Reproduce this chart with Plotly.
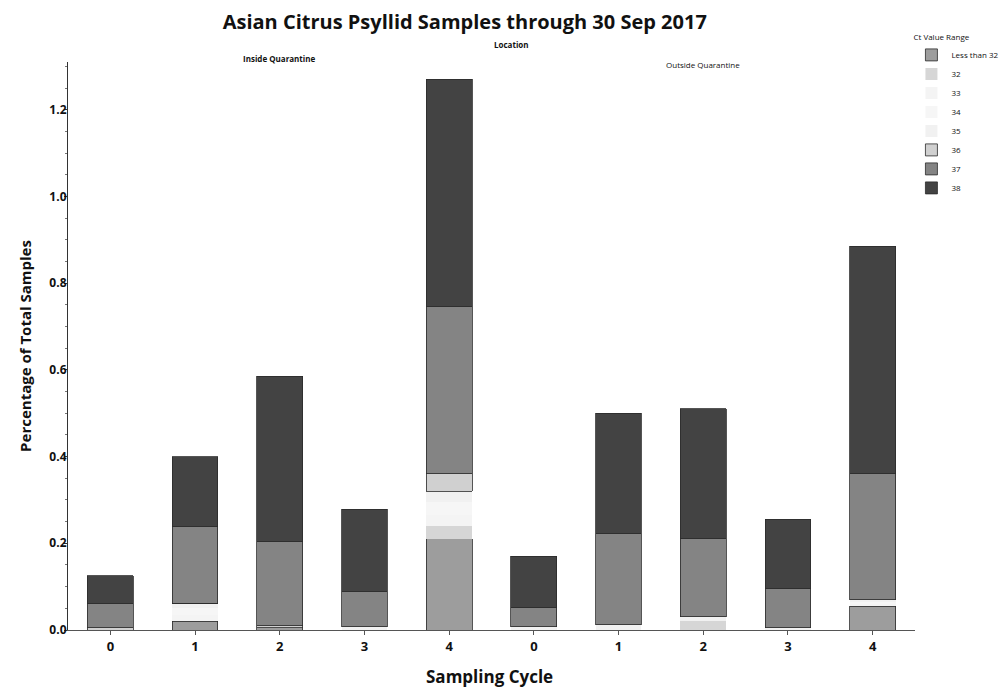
import plotly.graph_objects as go
from plotly.subplots import make_subplots

# Ciclos de muestreo y rangos de Ct
ciclos = ['0', '1', '2', '3', '4']
rangos_ct = ['Less than 32', '32', '33', '34', '35', '36', '37', '38']

# Porcentaje de muestras - dentro de cuarentena
dentro_menos32 = [0.0, 0.02, 0.005, 0.0, 0.21]
dentro_32 = [0.0, 0.0, 0.0, 0.0, 0.03]
dentro_33 = [0.0, 0.015, 0.0, 0.0, 0.025]
dentro_34 = [0.0, 0.015, 0.0, 0.0, 0.03]
dentro_35 = [0.0, 0.012, 0.0, 0.008, 0.025]
dentro_36 = [0.005, 0.0, 0.005, 0.0, 0.04]
dentro_37 = [0.055, 0.176, 0.195, 0.08, 0.385]
dentro_38 = [0.065, 0.162, 0.38, 0.19, 0.525]

# Porcentaje de muestras - fuera de cuarentena
fuera_menos32 = [0.0, 0.0, 0.0, 0.0, 0.055]
fuera_32 = [0.0, 0.0, 0.02, 0.0, 0.0]
fuera_33 = [0.0, 0.0, 0.0, 0.0, 0.005]
fuera_34 = [0.0, 0.0, 0.0, 0.0, 0.005]
fuera_35 = [0.008, 0.012, 0.01, 0.005, 0.005]
fuera_36 = [0.0, 0.0, 0.0, 0.0, 0.0]
fuera_37 = [0.045, 0.21, 0.18, 0.09, 0.29]
fuera_38 = [0.117, 0.278, 0.30, 0.16, 0.525]

colores = ['#9d9d9d', '#d6d6d6', '#f4f4f4', '#f6f6f6', '#f1f1f1', '#d0d0d0', '#848484', '#434343']

dentro = [dentro_menos32, dentro_32, dentro_33, dentro_34, dentro_35, dentro_36, dentro_37, dentro_38]
fuera = [fuera_menos32, fuera_32, fuera_33, fuera_34, fuera_35, fuera_36, fuera_37, fuera_38]

fig = make_subplots(rows=1, cols=2, shared_yaxes=True, horizontal_spacing=0)

for i, rango in enumerate(rangos_ct):
    borde = '#2b2b2b' if rango in ('Less than 32', '36', '37', '38') else 'rgba(0,0,0,0)'
    for col, valores in ((1, dentro[i]), (2, fuera[i])):
        fig.add_trace(
            go.Bar(
                x=ciclos,
                y=valores,
                name=rango,
                legendgroup=rango,
                showlegend=(col == 1),
                marker=dict(color=colores[i], line=dict(color=borde, width=0.8)),
            ),
            row=1, col=col
        )

fuente = 'Open Sans'

fig.update_layout(
    width=1006,
    height=688,
    barmode='stack',
    bargap=0.46,
    plot_bgcolor='white',
    paper_bgcolor='white',
    margin=dict(l=68, r=91, t=62, b=58, autoexpand=False),
    font=dict(family=fuente, color='#111'),
    title=dict(
        text='<b>Asian Citrus Psyllid Samples through 30 Sep 2017</b>',
        x=0.462, xanchor='center', y=1 - 22 / 688, yanchor='middle',
        font=dict(size=20, family=fuente, color='#111')
    ),
    legend=dict(
        title=dict(text='Ct Value Range', font=dict(size=8, color='#111')),
        font=dict(size=8, color='#111'),
        traceorder='normal',
        xref='container', yref='container',
        x=0.906, y=1 - 30 / 688, xanchor='left', yanchor='top',
        bgcolor='rgba(0,0,0,0)',
        itemwidth=30,
    ),
)

for col in (1, 2):
    fig.update_xaxes(
        type='category',
        showgrid=False,
        automargin=False,
        showline=True, linecolor='#555', linewidth=1,
        ticks='outside', ticklen=4, tickcolor='#555',
        tickfont=dict(size=13, family=fuente, color='#111', weight='bold'),
        row=1, col=col
    )

fig.update_yaxes(
    range=[0, 1.31],
    showgrid=False,
    zeroline=False,
    automargin=False,
    showline=True, linecolor='#333', linewidth=1.2,
    tickvals=[0, 0.2, 0.4, 0.6, 0.8, 1.0, 1.2],
    ticktext=['0.0', '0.2', '0.4', '0.6', '0.8', '1.0', '1.2'],
    ticks='outside', ticklen=3, tickcolor='#333',
    ticklabelstandoff=-5,
    minor=dict(ticks='outside', ticklen=2, dtick=0.05, tickcolor='#777'),
    tickfont=dict(size=12, family=fuente, color='#111', weight='bold'),
    title=dict(text='<b>Percentage of Total Samples</b>', font=dict(size=15, family=fuente), standoff=14),
    row=1, col=1
)


def y_papel(py):
    # convierte un pixel vertical a coordenada de papel (area de trazado 62..630)
    return (630 - py) / 568


# Encabezados de panel
fig.add_annotation(text='<b>Location</b>', xref='paper', yref='paper', x=0.524, y=y_papel(45),
                   yanchor='middle', showarrow=False, font=dict(size=8, family=fuente))
fig.add_annotation(text='<b>Inside Quarantine</b>', xref='x domain', yref='paper', x=0.5, y=y_papel(58),
                   yanchor='middle', showarrow=False, font=dict(size=8, family=fuente))
fig.add_annotation(text='Outside Quarantine', xref='x2 domain', yref='paper', x=0.5, y=y_papel(64),
                   yanchor='middle', showarrow=False, font=dict(size=8, family=fuente))
fig.add_annotation(text='<b>Sampling Cycle</b>', xref='paper', yref='paper', x=0.498, y=y_papel(676),
                   yanchor='middle', showarrow=False, font=dict(size=17, family=fuente))

# quitar el margen por defecto del body para que la figura empiece en (0, 0)
fig.write_html('out.html', config={'displayModeBar': False},
               post_script="document.body.style.margin='0';")
